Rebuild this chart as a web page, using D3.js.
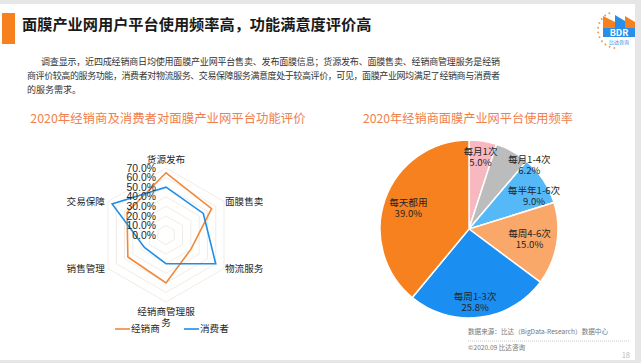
<!DOCTYPE html>
<html>
<head>
<meta charset="utf-8">
<script src="https://cdn.jsdelivr.net/npm/d3@7"></script>
<style>
  html, body { margin: 0; padding: 0; background: #fff; }
  svg { display: block; font-family: "Noto Sans CJK SC", "Noto Sans", sans-serif; }
</style>
</head>
<body>
<svg id="chart" width="641" height="363"></svg>
<script>
// ---- data ----
const radarAxes = ["货源发布", "面膜售卖", "物流服务", "经销商管理服务", "销售管理", "交易保障"];
const dealerScores = [65, 55, 30, 50, 46, 47];      // 经销商
const consumerScores = [50, 45, 60, 30, 26, 65];    // 消费者
const radarTicks = [0, 10, 20, 30, 40, 50, 60, 70];

const freqLabels = ["每月1次", "每月1-4次", "每半年1-6次", "每周4-6次", "每周1-3次", "每天都用"];
const freqValues = [5.0, 6.2, 9.0, 15.0, 25.8, 39.0];
const freqColors = ["#f8b8c0", "#bcbcbc", "#55b9f7", "#f9a869", "#1b8ef2", "#f7811f"];

const paragraph = [
  "调查显示，近四成经销商日均使用面膜产业网平台售卖、发布面膜信息；货源发布、面膜售卖、经销商管理服务是经销",
  "商评价较高的服务功能，消费者对物流服务、交易保障服务满意度处于较高评价，可见，面膜产业网均满足了经销商与消费者",
  "的服务需求。"
];

const svg = d3.select("#chart");

// slide frame
svg.append("rect").attr("width", 641).attr("height", 363).attr("fill", "#e6e6e6");
svg.append("rect").attr("x", 0).attr("y", 4).attr("width", 635).attr("height", 356).attr("fill", "#fff");

// header
svg.append("rect").attr("x", 2).attr("y", 13).attr("width", 13).attr("height", 31).attr("fill", "#f7811f");
svg.append("text").attr("x", 22).attr("y", 25).attr("dy", "0.36em")
  .attr("font-size", 15.2).attr("font-weight", "bold").attr("fill", "#1a1a1a")
  .text("面膜产业网用户平台使用频率高，功能满意度评价高");

// logo (rough)
const logo = svg.append("g");
d3.range(11).forEach(i => {
  let a = Math.PI * (0.62 + i * 0.085);
  logo.append("circle").attr("cx", 616 + 18 * Math.cos(a)).attr("cy", 30 - 18 * Math.sin(a) * -1 * -1)
    .attr("r", 1).attr("fill", "#f39a4a");
});
logo.append("path").attr("d", "M603,28 L603,16 L615,22 L615,28 Z").attr("fill", "#f7811f");
logo.append("path").attr("d", "M615,28 L615,15 L625,21 L625,28 Z").attr("fill", "#2a8ee8");
logo.append("path").attr("d", "M625,28 L625,16 L635,22 L635,28 Z").attr("fill", "#f7811f");
logo.append("rect").attr("x", 603).attr("y", 28).attr("width", 32).attr("height", 9).attr("fill", "#2a8ee8");
logo.append("text").attr("x", 619).attr("y", 36).attr("text-anchor", "middle")
  .attr("font-size", 9).attr("font-weight", "bold").attr("fill", "#fff").text("BDR");
logo.append("text").attr("x", 619).attr("y", 44).attr("text-anchor", "middle")
  .attr("font-size", 5).attr("fill", "#2a8ee8").text("比达咨询");

// paragraph
const paraX = [41, 27, 27], paraW = [459, 473, null];
paragraph.forEach((line, i) => {
  let t = svg.append("text").attr("x", paraX[i]).attr("y", 62 + i * 13.7).attr("dy", "0.36em")
    .attr("font-size", 9).attr("fill", "#333").text(line);
  if (paraW[i]) t.attr("textLength", paraW[i]).attr("lengthAdjust", "spacing");
});

// chart titles
svg.append("text").attr("x", 168).attr("y", 119).attr("dy", "0.36em").attr("text-anchor", "middle")
  .attr("font-size", 12.4).attr("fill", "#f0804e")
  .text("2020年经销商及消费者对面膜产业网平台功能评价");
svg.append("text").attr("x", 468).attr("y", 119).attr("dy", "0.36em").attr("text-anchor", "middle")
  .attr("font-size", 12.2).attr("fill", "#f0804e")
  .text("2020年经销商面膜产业网平台使用频率");

/* ---------------- radar ---------------- */
const rc = { x: 166, y: 235 };
const r = d3.scaleLinear().domain([0, 70]).range([0, 67]);
const angle = i => i * 2 * Math.PI / radarAxes.length;
const pt = (i, v) => [rc.x + r(v) * Math.sin(angle(i)), rc.y - r(v) * Math.cos(angle(i))];
const radarLine = d3.line().curve(d3.curveLinearClosed);

const gRadar = svg.append("g");
radarTicks.slice(1).forEach(t => {
  gRadar.append("path")
    .attr("d", radarLine(radarAxes.map((a, i) => pt(i, t))))
    .attr("fill", "none").attr("stroke", "#efe6de").attr("stroke-width", 0.8);
});

const series = [
  { name: "经销商", values: dealerScores, color: "#f0883a" },
  { name: "消费者", values: consumerScores, color: "#1f8ee6" }
];
series.forEach(s => {
  gRadar.append("path")
    .attr("d", radarLine(s.values.map((v, i) => pt(i, v))))
    .attr("fill", "none").attr("stroke", s.color).attr("stroke-width", 1.6)
    .attr("stroke-linejoin", "miter");
});

// value axis labels
gRadar.selectAll("text.tick").data(radarTicks).join("text")
  .attr("class", "tick")
  .attr("x", rc.x - 10).attr("y", d => rc.y - r(d)).attr("dy", "0.36em")
  .attr("text-anchor", "end").attr("font-size", 10.4).attr("fill", "#262626")
  .attr("font-family", "'Liberation Sans', 'Noto Sans', sans-serif")
  .text(d => d3.format(".1f")(d) + "%");

// axis category labels
radarAxes.forEach((name, i) => {
  let [x, y] = pt(i, 70);
  let s = Math.sin(angle(i)), c = Math.cos(angle(i));
  let t = gRadar.append("text").attr("font-size", 9.6).attr("fill", "#262626");
  if (Math.abs(s) < 0.01) {
    t.attr("text-anchor", "middle");
    if (c > 0) {
      t.attr("x", x).attr("y", y - 8).attr("dy", "0.36em").text(name);
    } else {
      // wrap long bottom label
      t.attr("x", x).attr("y", y + 10).attr("dy", "0.36em");
      t.append("tspan").attr("x", x).text(name.slice(0, 6));
      t.append("tspan").attr("x", x).attr("dy", 10.6).text(name.slice(6));
    }
  } else {
    t.attr("text-anchor", s > 0 ? "start" : "end")
      .attr("x", x + (s > 0 ? 1 : -3)).attr("y", y + 0.5).attr("dy", "0.36em").text(name);
  }
});

// legend
const legend = svg.append("g");
series.forEach((s, i) => {
  let lx = 115 + i * 69;
  legend.append("line").attr("x1", lx).attr("x2", lx + 15).attr("y1", 329).attr("y2", 329)
    .attr("stroke", s.color).attr("stroke-width", 1.6);
  legend.append("text").attr("x", lx + 16).attr("y", 329).attr("dy", "0.36em")
    .attr("font-size", 9.6).attr("fill", "#262626").text(s.name);
});

/* ---------------- pie ---------------- */
const pc = { x: 469, y: 229 }, R = 89;
const pie = d3.pie().sort(null).value(d => d.v);
const arcs = pie(freqLabels.map((l, i) => ({ l, v: freqValues[i], c: freqColors[i] })));
const arc = d3.arc().innerRadius(0).outerRadius(R);
const gPie = svg.append("g").attr("transform", `translate(${pc.x},${pc.y})`);
gPie.selectAll("path").data(arcs).join("path")
  .attr("d", arc).attr("fill", d => d.data.c)
  .attr("stroke", "#fff").attr("stroke-width", 1.5);

// label placement: radius factor and angle shift (deg) per slice, Excel "best fit" style
const labelNudge = {
  "每月1次": [0.82, 0], "每月1-4次": [0.99, 14], "每半年1-6次": [0.82, 6.5],
  "每周4-6次": [0.69, 0], "每周1-3次": [0.82, 2], "每天都用": [0.72, -1]
};
arcs.forEach(d => {
  let [k, shift] = labelNudge[d.data.l];
  let a = (d.startAngle + d.endAngle) / 2 + shift * Math.PI / 180;
  let x = k * R * Math.sin(a), y = -k * R * Math.cos(a);
  let t = gPie.append("text").attr("text-anchor", "middle").attr("font-size", 9.6).attr("fill", "#262626");
  t.append("tspan").attr("x", x).attr("y", y - 5.5).attr("dy", "0.36em").text(d.data.l);
  t.append("tspan").attr("x", x).attr("y", y + 5.5).attr("dy", "0.36em")
    .text(d3.format(".1f")(d.data.v) + "%");
});

// footer
svg.append("text").attr("x", 468).attr("y", 332).attr("dy", "0.36em")
  .attr("font-size", 6.6).attr("fill", "#777").text("数据来源：比达（BigData-Research）数据中心");
svg.append("line").attr("x1", 468).attr("x2", 630).attr("y1", 341).attr("y2", 341)
  .attr("stroke", "#bbb").attr("stroke-width", 0.8).attr("stroke-dasharray", "1,1");
svg.append("text").attr("x", 468).attr("y", 347.5).attr("dy", "0.36em")
  .attr("font-size", 6.6).attr("fill", "#777").text("©2020.09  比达咨询");
svg.append("text").attr("x", 630).attr("y", 355).attr("dy", "0.36em").attr("text-anchor", "end")
  .attr("font-size", 7.5).attr("fill", "#bbb").text("18");
</script>
</body>
</html>
